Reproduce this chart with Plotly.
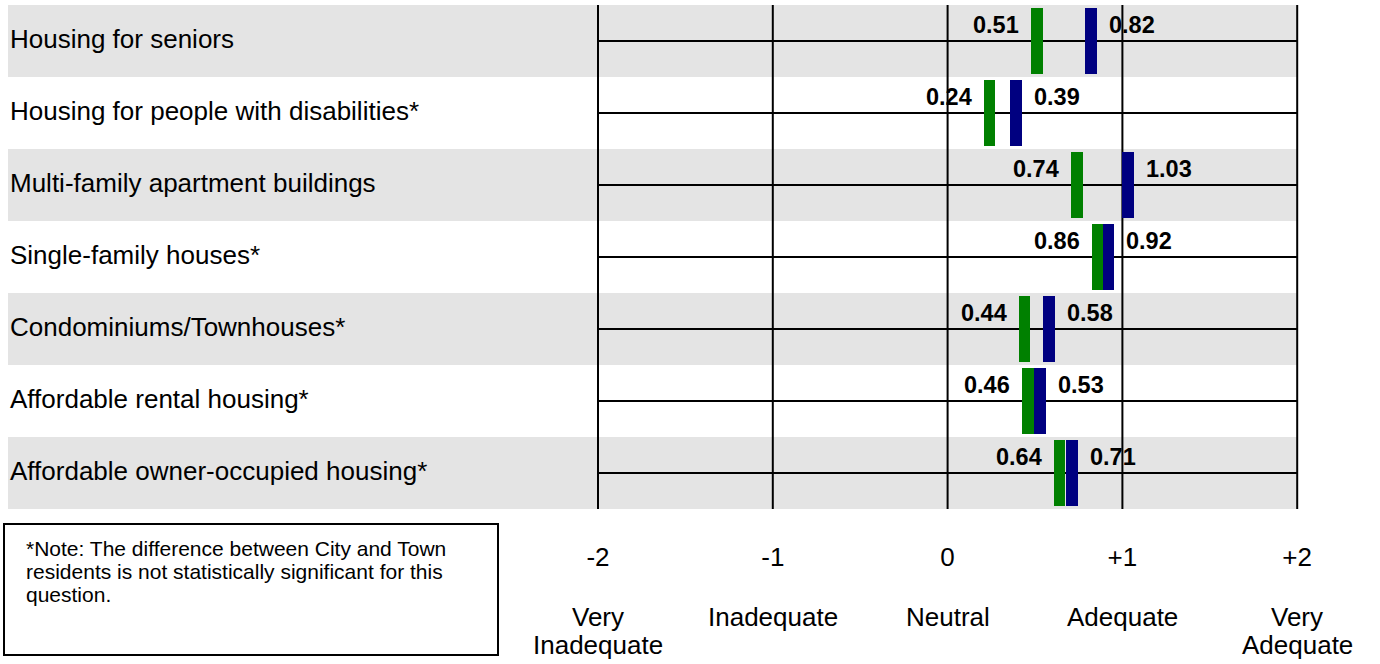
import plotly.graph_objects as go

categories = [
    "Housing for seniors",
    "Housing for people with disabilities*",
    "Multi-family apartment buildings",
    "Single-family houses*",
    "Condominiums/Townhouses*",
    "Affordable rental housing*",
    "Affordable owner-occupied housing*",
]
green_values = [0.51, 0.24, 0.74, 0.86, 0.44, 0.46, 0.64]
blue_values = [0.82, 0.39, 1.03, 0.92, 0.58, 0.53, 0.71]
tick_vals = [-2, -1, 0, 1, 2]
tick_text = ["-2", "-1", "0", "+1", "+2"]
scale_line1 = ["Very", "Inadequate", "Neutral", "Adequate", "Very"]
scale_line2 = ["Inadequate", "", "", "", "Adequate"]
note_lines = [
    "*Note: The difference between City and Town",
    "residents is not statistically significant for this",
    "question.",
]

GREEN = "#008000"
BLUE = "#000080"
GREY = "#e4e4e4"
FONT = "Liberation Sans, Arial, sans-serif"

W, H = 1380, 664
ML, MR, MT, MB = 8, 0, 5, 155
plot_w = W - ML - MR
plot_h = H - MT - MB
unit_px = 174.8
x0_px = 598 - ML  # pixel offset of -2 inside plot
xmin = -2 - x0_px / unit_px
xmax = xmin + plot_w / unit_px

bar_w = 0.067
bar_h = 0.93
n = len(categories)
rows = list(range(n))


def py(pix):
    return (H - MB - pix) / plot_h


def px(pix):
    return (pix - ML) / plot_w


fig = go.Figure()

fig.add_trace(go.Bar(
    orientation="h", y=rows, x=[bar_w] * n,
    base=[v - bar_w / 2 for v in green_values],
    width=bar_h, marker=dict(color=GREEN, line=dict(width=0)),
    showlegend=False, hoverinfo="skip",
))
fig.add_trace(go.Bar(
    orientation="h", y=rows, x=[bar_w] * n,
    base=[v - bar_w / 2 for v in blue_values],
    width=bar_h, marker=dict(color=BLUE, line=dict(width=0)),
    showlegend=False, hoverinfo="skip",
))

shapes = []
annotations = []
for i, cat in enumerate(categories):
    if i % 2 == 0:
        shapes.append(dict(type="rect", xref="x", yref="y", x0=xmin, x1=2,
                           y0=i - 0.5, y1=i + 0.5, fillcolor=GREY,
                           line=dict(width=0), layer="below"))
    shapes.append(dict(type="line", xref="x", yref="y", x0=-2, x1=2, y0=i, y1=i,
                       line=dict(color="black", width=2), layer="below"))
    annotations.append(dict(xref="paper", yref="y", x=0, y=i - 0.03, xanchor="left",
                            yanchor="middle", xshift=0, text=cat, showarrow=False,
                            font=dict(family=FONT, size=26, color="black")))
    gv, bv = green_values[i], blue_values[i]
    annotations.append(dict(xref="x", yref="y", x=gv - bar_w / 2, y=i - 0.22,
                            xanchor="right", yanchor="middle", xshift=-10,
                            text=f"<b>{gv:.2f}</b>", showarrow=False,
                            font=dict(family=FONT, size=23.5, color="black")))
    annotations.append(dict(xref="x", yref="y", x=bv + bar_w / 2, y=i - 0.22,
                            xanchor="left", yanchor="middle", xshift=10,
                            text=f"<b>{bv:.2f}</b>", showarrow=False,
                            font=dict(family=FONT, size=23.5, color="black")))

for tv in tick_vals:
    shapes.append(dict(type="line", xref="x", yref="y", x0=tv, x1=tv,
                       y0=-0.5, y1=n - 0.5,
                       line=dict(color="black", width=2), layer="below"))

for tv, l1, l2 in zip(tick_vals, scale_line1, scale_line2):
    annotations.append(dict(xref="x", yref="paper", x=tv, y=py(617),
                            xanchor="center", yanchor="middle", text=l1,
                            showarrow=False,
                            font=dict(family=FONT, size=26, color="black")))
    if l2:
        annotations.append(dict(xref="x", yref="paper", x=tv, y=py(645),
                                xanchor="center", yanchor="middle", text=l2,
                                showarrow=False,
                                font=dict(family=FONT, size=26, color="black")))

shapes.append(dict(type="rect", xref="paper", yref="paper",
                   x0=px(4), x1=px(498), y0=py(655), y1=py(524),
                   line=dict(color="black", width=2), fillcolor="white"))
for k, line in enumerate(note_lines):
    annotations.append(dict(xref="paper", yref="paper", x=px(24), y=py(548 + 23 * k),
                            xanchor="left", yanchor="middle", align="left",
                            text=line, showarrow=False,
                            font=dict(family=FONT, size=21, color="black")))

fig.update_layout(
    width=W, height=H,
    margin=dict(l=ML, r=MR, t=MT, b=MB, pad=0),
    paper_bgcolor="white", plot_bgcolor="white",
    barmode="overlay", bargap=0,
    shapes=shapes, annotations=annotations,
    xaxis=dict(range=[xmin, xmax], showgrid=False, zeroline=False,
               showline=False, tickvals=tick_vals, ticktext=tick_text,
               ticks="", ticklabelstandoff=30,
               tickfont=dict(family=FONT, size=26, color="black"),
               fixedrange=True),
    yaxis=dict(range=[n - 0.5, -0.5], showgrid=False, zeroline=False,
               showline=False, showticklabels=False, fixedrange=True),
    font=dict(family=FONT),
)

fig.write_html("out.html", config={"displayModeBar": False},
               post_script="document.body.style.margin='0';document.body.style.overflow='hidden';")
